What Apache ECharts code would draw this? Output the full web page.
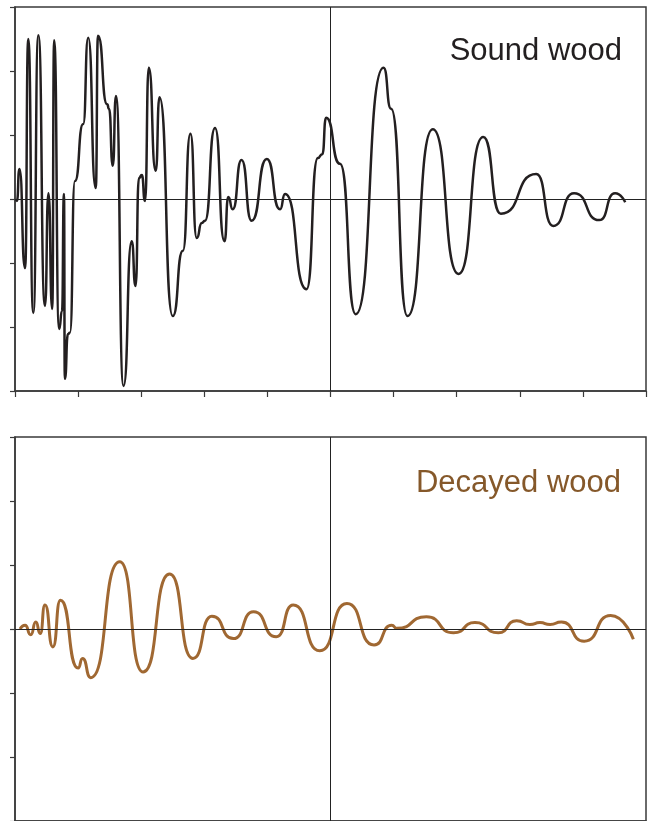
<!DOCTYPE html>
<html>
<head>
<meta charset="utf-8">
<script src="https://cdn.jsdelivr.net/npm/echarts@6/dist/echarts.min.js"></script>
<style>
html,body{margin:0;padding:0;background:#fff;}
#c{width:649px;height:821px;}
</style>
</head>
<body>
<div id="c"></div>
<script>
// time axis (ms-like units, 0..10) and amplitude (-3..3)
const soundWood = [
  [0.016,0],[0.03,-0.03],[0.07,0.47],[0.16,-1.08],[0.21,2.5],[0.29,-1.78],[0.37,2.56],
  [0.475,-1.67],[0.53,0.09],[0.59,-1.72],[0.62,2.48],[0.70,-2.03],[0.745,-1.75],
  [0.776,0.08],[0.79,-2.81],[0.84,-2.11],[0.87,-2.09],[0.95,0.28],[1.08,1.17],
  [1.16,2.52],[1.28,0.17],[1.315,2.55],[1.46,1.48],[1.49,1.41],[1.55,0.52],[1.60,1.61],
  [1.72,-2.92],[1.85,-0.66],[1.91,-1.36],[1.965,0.33],[2.01,0.375],[2.06,-0.03],
  [2.12,2.05],[2.23,0.44],[2.29,1.59],[2.50,-1.83],[2.66,-0.81],[2.78,1.02],
  [2.88,-0.61],[2.96,-0.375],[3.01,-0.34],[3.17,1.11],[3.32,-0.66],[3.38,0.03],
  [3.45,-0.16],[3.59,0.61],[3.75,-0.34],[3.99,0.625],[4.20,-0.16],[4.28,0.08],
  [4.62,-1.41],[4.80,0.64],[4.87,0.70],[4.93,1.27],[5.15,0.55],[5.40,-1.80],
  [5.84,2.05],[5.96,1.41],[6.22,-1.83],[6.62,1.09],[7.03,-1.17],[7.42,0.97],
  [7.70,-0.23],[8.26,0.39],[8.53,-0.42],[8.86,0.09],[9.26,-0.33],[9.51,0.09],[9.67,-0.05]
];
const decayedWood = [
  [0.08,0],[0.16,0.06],[0.25,-0.09],[0.33,0.11],[0.40,-0.07],[0.475,0.375],[0.60,-0.28],
  [0.72,0.45],[1.00,-0.61],[1.07,-0.46],[1.20,-0.76],[1.66,1.05],[2.03,-0.67],[2.45,0.86],
  [2.82,-0.46],[3.12,0.20],[3.46,-0.15],[3.78,0.27],[4.14,-0.12],[4.41,0.375],[4.83,-0.34],
  [5.26,0.40],[5.69,-0.25],[5.97,0.06],[6.05,0.01],[6.52,0.19],[6.95,-0.06],[7.29,0.10],
  [7.66,-0.06],[7.95,0.13],[8.16,0.07],[8.32,0.10],[8.48,0.07],[8.66,0.11],[9.02,-0.19],
  [9.44,0.21],[9.80,-0.16]
];
const panelLabels = ['Sound wood', 'Decayed wood'];

const axisCol = '#3a3a3a';
const brown = '#a06832';
const brownText = '#85582a';

function xAx(i){
  return {type:'value', gridIndex:i, min:0, max:10, interval:1,
    axisLine:{show:true, onZero:false, lineStyle:{color:axisCol, width:1.5}},
    axisTick:{show:true, length:6, lineStyle:{color:axisCol, width:1.2}},
    axisLabel:{show:false}, splitLine:{show:false}};
}
function yAx(i){
  return {type:'value', gridIndex:i, min:-3, max:3, interval:1,
    axisLine:{show:true, onZero:false, lineStyle:{color:axisCol, width:1.5}},
    axisTick:{show:true, length:5, lineStyle:{color:axisCol, width:1.2}},
    axisLabel:{show:false}, splitLine:{show:false}};
}
function refLines(){
  return {silent:true, symbol:['none','none'], label:{show:false},
    lineStyle:{color:'#222', width:1, type:'solid'},
    data:[{yAxis:0},{xAxis:5}]};
}

const chart = echarts.init(document.getElementById('c'), null, {renderer:'canvas'});
chart.setOption({
  animation:false,
  backgroundColor:'#fff',
  grid:[
    {left:15, right:3, top:7, height:384, show:true, borderColor:axisCol, borderWidth:1.5},
    {left:15, right:3, top:437, height:384, show:true, borderColor:axisCol, borderWidth:1.5}
  ],
  xAxis:[xAx(0), xAx(1)],
  yAxis:[yAx(0), yAx(1)],
  graphic:[
    {type:'text', right:27, top:36, style:{text:panelLabels[0], fill:'#231f20',
      font:'31px "Liberation Sans", Arial, sans-serif'}},
    {type:'text', right:28, top:468, style:{text:panelLabels[1], fill:brownText,
      font:'31px "Liberation Sans", Arial, sans-serif'}}
  ],
  series:[
    {type:'line', xAxisIndex:0, yAxisIndex:0, data:soundWood, showSymbol:false,
      smooth:0.62, smoothMonotone:'x',
      lineStyle:{color:'#231f20', width:2.5}, markLine:refLines()},
    {type:'line', xAxisIndex:1, yAxisIndex:1, data:decayedWood, showSymbol:false,
      smooth:0.62, smoothMonotone:'x',
      lineStyle:{color:brown, width:3}, markLine:refLines()}
  ]
});
</script>
</body>
</html>
